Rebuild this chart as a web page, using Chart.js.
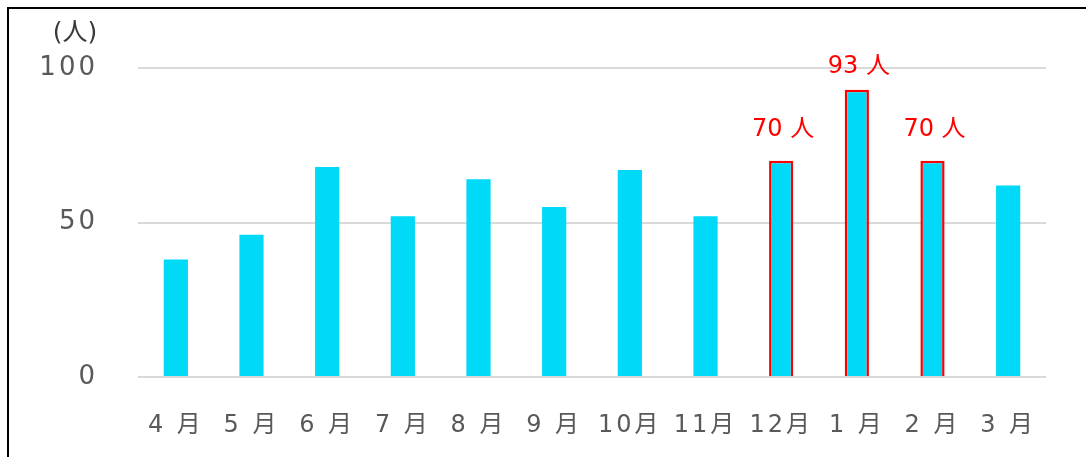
<!DOCTYPE html>
<html lang="ja">
<head>
<meta charset="utf-8">
<title>月別人数</title>
<script src="https://cdn.jsdelivr.net/npm/chart.js@4/dist/chart.umd.min.js"></script>
<style>
  html, body { margin: 0; padding: 0; background: #fff; }
  .wrap { position: relative; width: 1086px; height: 457px; overflow: hidden; }
  .frame {
    position: absolute; left: 7px; top: 7px; width: 1200px; height: 600px;
    border-left: 2px solid #000; border-top: 2px solid #000;
  }
  #chart { position: absolute; left: 0; top: 0; }
</style>
</head>
<body>
<div class="wrap">
  <div class="frame"></div>
  <canvas id="chart" width="1086" height="457"></canvas>
</div>
<script>
// ── Data ──────────────────────────────────────────────
const months      = ['4 月', '5 月', '6 月', '7 月', '8 月', '9 月', '10月', '11月', '12月', '1 月', '2 月', '3 月'];
const people      = [38, 46, 68, 52, 64, 55, 67, 52, 70, 93, 70, 62];
const highlighted = [false, false, false, false, false, false, false, false, true, true, true, false];
const yTicks      = [0, 50, 100];
const unitLabel   = '(人)';

// ── Style ─────────────────────────────────────────────
const FONT      = '"DejaVu Sans", "Noto Sans CJK JP", sans-serif';
const BAR_FILL  = '#00d9f7';
const HILITE    = '#ff0000';
const TICK_GRAY = '#595959';
const GRID_GRAY = '#d9d9d9';
// how far each red label sits above its bar top (px)
const labelLift = { 8: 31, 9: 23, 10: 31 };

// spaced-out axis text, like the original sheet
const spacingPlugin = {
  id: 'spacing',
  beforeDraw(chart) { chart.ctx.letterSpacing = '3px'; },
};

// "(人)" unit over the y axis + red value labels on highlighted bars
const annotatePlugin = {
  id: 'annotate',
  afterDatasetsDraw(chart) {
    const ctx = chart.ctx;
    ctx.save();
    ctx.letterSpacing = '0px';
    ctx.textAlign = 'center';
    ctx.textBaseline = 'middle';

    ctx.font = '25px ' + FONT;
    ctx.fillStyle = '#3a3a3a';
    ctx.fillText(unitLabel, 75, 33);

    ctx.font = '24px ' + FONT;
    ctx.fillStyle = HILITE;
    const meta = chart.getDatasetMeta(0);
    meta.data.forEach((bar, i) => {
      if (!highlighted[i]) return;
      ctx.fillText(`${people[i]} 人`, bar.x + 2, bar.y - (labelLift[i] || 30));
    });
    ctx.restore();
  },
};

new Chart(document.getElementById('chart'), {
  type: 'bar',
  data: {
    labels: months,
    datasets: [{
      data: people,
      backgroundColor: BAR_FILL,
      borderColor: highlighted.map(h => h ? HILITE : BAR_FILL),
      borderWidth: highlighted.map(h => h ? 2.5 : 0),
      borderSkipped: 'start',
      barPercentage: 0.32,
      categoryPercentage: 1,
    }],
  },
  options: {
    responsive: false,
    animation: false,
    events: [],
    layout: { padding: { left: 10, top: 68, right: 40, bottom: 10 } },
    plugins: {
      legend: { display: false },
      tooltip: { enabled: false },
    },
    scales: {
      x: {
        grid: { display: false },
        border: { display: false },
        ticks: {
          color: TICK_GRAY,
          font: { family: FONT, size: 24 },
          padding: 26,
          autoSkip: false,
          maxRotation: 0,
        },
        afterFit(scale) { scale.height = 70; },
      },
      y: {
        min: 0,
        max: 100,
        afterBuildTicks(scale) { scale.ticks = yTicks.map(v => ({ value: v })); },
        grid: { color: GRID_GRAY, lineWidth: 2, drawTicks: false },
        border: { display: false },
        ticks: {
          color: TICK_GRAY,
          font: { family: FONT, size: 26 },
          padding: 40,
        },
        afterFit(scale) { scale.width = 128; },
      },
    },
  },
  plugins: [spacingPlugin, annotatePlugin],
});
</script>
</body>
</html>
